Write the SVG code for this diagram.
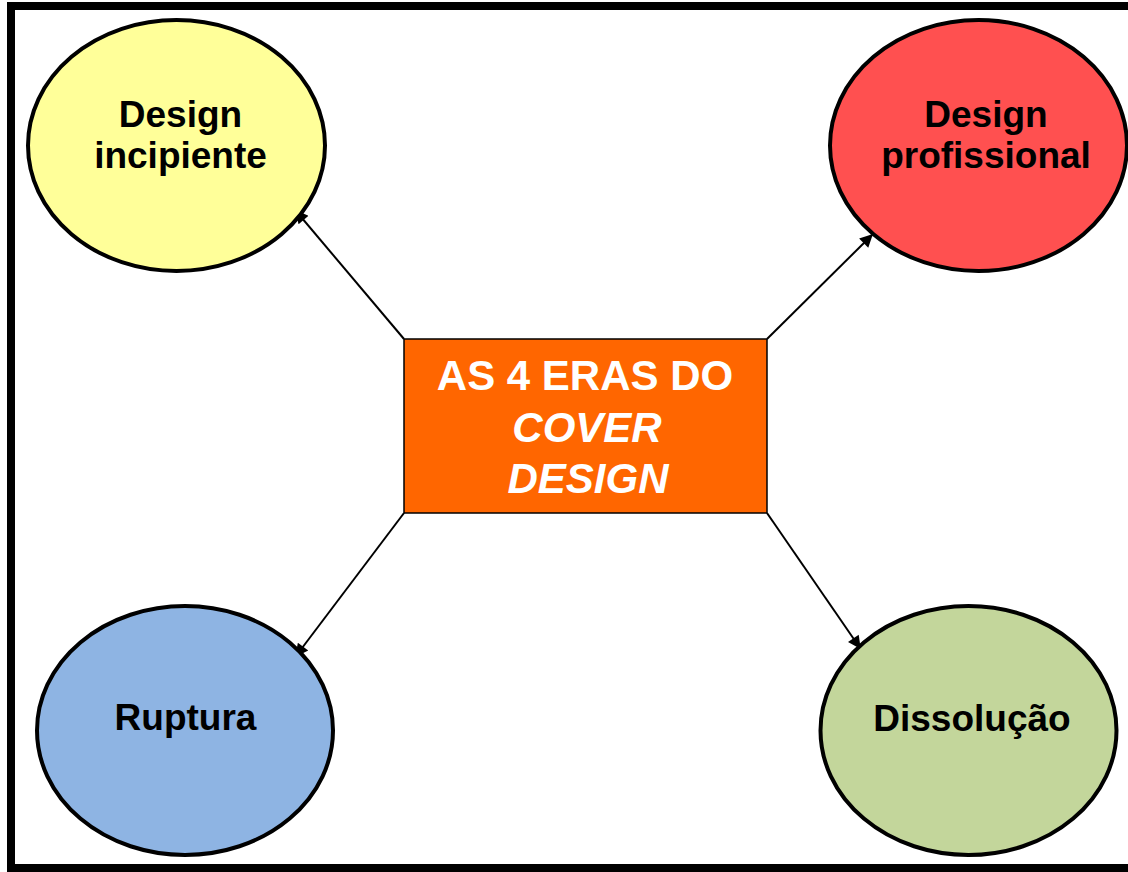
<svg xmlns="http://www.w3.org/2000/svg" width="1128" height="872" viewBox="0 0 1128 872">
<style>
.node{stroke:#000;stroke-width:4}
.lbl{font-family:"Liberation Sans",Arial,sans-serif;font-weight:bold;font-size:37px;fill:#000;text-anchor:middle}
.ctr{font-family:"Liberation Sans",Arial,sans-serif;font-weight:bold;font-size:42px;fill:#fff;text-anchor:middle}
.conn{stroke:#000;stroke-width:2;fill:none;marker-end:url(#ah)}
</style>
<defs>
<marker id="ah" viewBox="0 0 10 10" refX="9" refY="5" markerWidth="16" markerHeight="13" markerUnits="userSpaceOnUse" orient="auto">
<path d="M0,0 L10,5 L0,10 z" fill="#000"/>
</marker>
</defs>
<rect x="0" y="0" width="1128" height="872" fill="#fff"/>
<rect x="11" y="6" width="1130" height="862" fill="none" stroke="#000" stroke-width="8"/>
<g id="connectors">
<line class="conn" x1="404" y1="339" x2="296" y2="211"/>
<line class="conn" x1="767" y1="339" x2="872" y2="235"/>
<line class="conn" x1="404" y1="513" x2="296" y2="656"/>
<line class="conn" x1="767" y1="513" x2="860" y2="648"/>
</g>
<g id="center">
<rect x="404" y="339" width="363" height="174" fill="#ff6600" stroke="#000" stroke-width="1.5"/>
<text class="ctr" x="585" y="390">AS 4 ERAS DO</text>
<text class="ctr" x="587" y="442" font-style="italic">COVER</text>
<text class="ctr" x="588" y="493" font-style="italic">DESIGN</text>
</g>
<g id="incipiente">
<ellipse class="node" cx="176.5" cy="145.5" rx="148.5" ry="125.5" fill="#ffff99"/>
<text class="lbl" x="180.5" y="127">Design</text>
<text class="lbl" x="180.5" y="168">incipiente</text>
</g>
<g id="profissional">
<ellipse class="node" cx="978.5" cy="145.5" rx="148.5" ry="125.5" fill="#ff5050"/>
<text class="lbl" x="986" y="127">Design</text>
<text class="lbl" x="986" y="168">profissional</text>
</g>
<g id="ruptura">
<ellipse class="node" cx="185" cy="730.5" rx="148" ry="124.5" fill="#8eb4e3"/>
<text class="lbl" x="185.5" y="730">Ruptura</text>
</g>
<g id="dissolucao">
<ellipse class="node" cx="968.5" cy="730.5" rx="148" ry="124.5" fill="#c3d69b"/>
<text class="lbl" x="972" y="730.5">Dissolução</text>
</g>
</svg>
